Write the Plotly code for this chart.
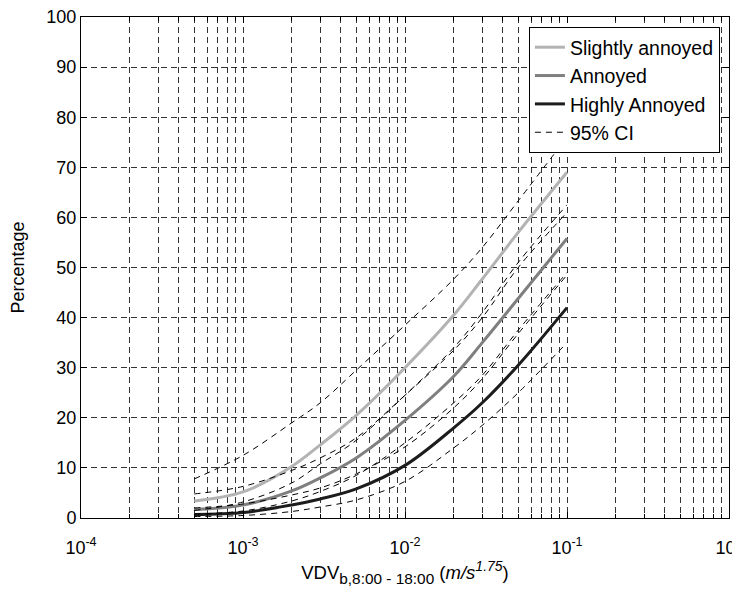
import plotly.graph_objects as go

# ---- data ----
vdv = [5e-4, 1e-3, 2e-3, 3e-3, 5e-3, 1e-2, 2e-2, 3e-2, 5e-2, 1e-1]

slightly = [3.4, 5.2, 10.3, 14.6, 20.5, 30.0, 40.5, 47.7, 57.0, 69.0]
annoyed = [1.7, 2.6, 5.4, 8.0, 12.0, 19.5, 28.3, 35.0, 43.8, 55.8]
highly = [0.7, 1.1, 2.6, 3.8, 5.8, 10.5, 18.0, 23.0, 30.5, 42.0]

slightly_up = [7.8, 12.5, 19.0, 23.0, 29.5, 38.5, 47.7, 54.0, 63.3, 76.0]
slightly_lo = [1.5, 3.2, 7.0, 10.8, 15.5, 24.5, 34.0, 41.0, 51.0, 62.5]
annoyed_up = [4.8, 6.3, 9.5, 12.0, 16.0, 24.5, 33.5, 40.0, 50.0, 61.0]
annoyed_lo = [0.8, 1.4, 3.4, 5.3, 8.5, 15.0, 23.0, 28.5, 37.5, 49.0]
highly_up = [2.0, 2.8, 4.6, 6.0, 8.8, 14.2, 22.0, 27.8, 36.8, 48.5]
highly_lo = [0.3, 0.5, 1.3, 2.2, 3.6, 7.3, 14.0, 18.5, 25.0, 35.0]

series_names = ["Slightly annoyed", "Annoyed", "Highly Annoyed"]
series_colors = ["#b3b3b3", "#7f7f7f", "#1c1c1c"]

x_tickvals = [1e-4, 1e-3, 1e-2, 1e-1, 1]
x_ticktext = ["10<sup>-4</sup>", "10<sup>-3</sup>", "10<sup>-2</sup>", "10<sup>-1</sup>", "10<sup>0</sup>"]
x_minor = [m * 10.0 ** e for e in range(-4, 0) for m in range(2, 10)]
y_tickvals = list(range(0, 101, 10))

FONT = "Liberation Sans, Arial, Helvetica, sans-serif"
GRID = "rgba(0,0,0,0.8)"
GDASH = "6px,4px"

fig = go.Figure()
for name, col, ys in zip(series_names, series_colors, [slightly, annoyed, highly]):
    fig.add_trace(go.Scatter(x=vdv, y=ys, mode="lines", name=name,
                             line=dict(color=col, width=3, shape="spline", smoothing=1.0)))

for i, ys in enumerate([slightly_up, slightly_lo, annoyed_up, annoyed_lo, highly_up, highly_lo]):
    fig.add_trace(go.Scatter(x=vdv, y=ys, mode="lines", name="95% CI",
                             legendgroup="ci", showlegend=(i == 0),
                             line=dict(color="black", width=1, dash="6px,5px",
                                       shape="spline", smoothing=1.0)))

xtitle = ('VDV<span style="font-size:22px"><sub>b,8:00 - 18:00</sub></span> '
          '(<i>m/s<span style="font-size:20px"><sup>1.75</sup></span></i>)')

fig.update_layout(
    width=732, height=587,
    margin=dict(l=73, r=11, t=9, b=77, autoexpand=False),
    paper_bgcolor="white", plot_bgcolor="white",
    font=dict(family=FONT, size=18, color="black"),
    showlegend=True,
    legend=dict(x=0.986, y=0.98, xanchor="right", yanchor="top",
                bgcolor="white", bordercolor="black", borderwidth=1,
                font=dict(size=19.5), tracegroupgap=0),
    xaxis=dict(type="log", range=[-4, 0], automargin=False,
               tickmode="array", tickvals=x_tickvals, ticktext=x_ticktext,
               ticks="inside", ticklen=6, tickcolor="black",
               ticklabelstandoff=13, ticklabeloverflow="allow",
               showline=True, linecolor="black", linewidth=1, mirror="allticks",
               showgrid=True, gridcolor=GRID, gridwidth=1, griddash=GDASH,
               minor=dict(tickmode="array", tickvals=x_minor, ticks="inside", ticklen=4,
                          tickcolor="black", showgrid=True, gridcolor=GRID,
                          gridwidth=1, griddash=GDASH),
               zeroline=False,
               title=dict(text=xtitle, font=dict(size=18.5), standoff=8)),
    yaxis=dict(range=[0, 100], automargin=False,
               tickmode="array", tickvals=y_tickvals,
               ticks="inside", ticklen=6, tickcolor="black",
               ticklabeloverflow="allow",
               showline=True, linecolor="black", linewidth=1, mirror="allticks",
               showgrid=True, gridcolor=GRID, gridwidth=1, griddash=GDASH,
               zeroline=False,
               title=dict(text="Percentage", font=dict(size=18), standoff=20)),
)

fig.write_html("out.html")
